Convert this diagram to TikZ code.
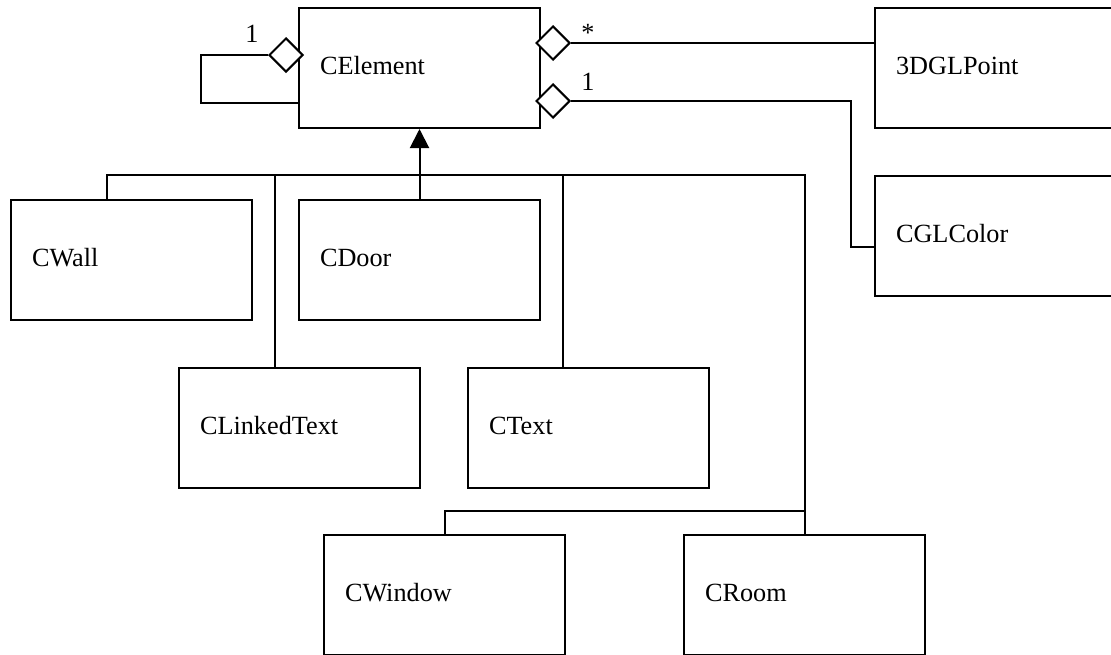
\documentclass[tikz,border=0pt]{standalone}
\usepackage{fontspec}
\setmainfont{Liberation Serif}
\usetikzlibrary{shapes.geometric,arrows.meta,calc}

\tikzset{
  cls/.style={draw, line width=2pt, fill=white, anchor=north west,
    minimum width=241pt, minimum height=120pt, text width=199pt,
    inner xsep=21pt, align=left, text height=12pt, text depth=0pt},
  conn/.style={draw, line width=2pt},
  aggr/.style={diamond, draw, line width=2pt, fill=white, aspect=1,
    minimum size=34pt, inner sep=0pt},
  mult/.style={anchor=base, inner sep=0pt},
}

\begin{document}
\begin{tikzpicture}[x=1pt, y=-1pt, font=\fontsize{26.25}{30}\selectfont]
  \useasboundingbox (0,0) rectangle (1111,654);
  \clip (0,0) rectangle (1111,654);

  % classes
  \node[cls] (elem)   at (298,7)   {CElement};
  \node[cls] (point)  at (874,7)   {3DGLPoint};
  \node[cls] (color)  at (874,175) {CGLColor};
  \node[cls] (wall)   at (10,199)  {CWall};
  \node[cls] (door)   at (298,199) {CDoor};
  \node[cls] (linked) at (178,367) {CLinkedText};
  \node[cls] (ctext)  at (467,367) {CText};
  \node[cls] (window) at (323,534) {CWindow};
  \node[cls] (room)   at (683,534) {CRoom};

  % routing helpers
  \coordinate (bus)   at (0,175);
  \coordinate (bus2)  at (0,511);
  \coordinate (loopy) at (0,103);
  \coordinate (cbend) at (851,247);

  % inheritance tree
  \coordinate (wallup)   at ($(wall.north west)+(97,0)$);
  \coordinate (linkedup) at ($(linked.north west)+(97,0)$);
  \coordinate (ctextup)  at ($(ctext.north west)+(96,0)$);
  \draw[conn] (wallup) |- (bus -| room.north) -- (room.north);
  \draw[conn] (linkedup) -- (linkedup |- bus);
  \draw[conn] (ctextup) -- (ctextup |- bus);
  \draw[conn] (window.north) |- (bus2 -| room.north);
  \draw[conn, -{Triangle[length=19pt, width=19pt]}] (door.north) -- (elem.south);

  % aggregations
  \node[aggr] (d0) at ($(elem.north west)+(-12,48)$) {};
  \node[aggr] (d1) at ($(elem.north east)+(12,36)$) {};
  \node[aggr] (d2) at ($(elem.north east)+(12,94)$) {};
  \draw[conn] (d0.west) -- ++(-67,0) |- (elem.west |- loopy);
  \draw[conn] (d1.east) -- (d1.east -| point.west);
  \draw[conn] (d2.east) -| (cbend) -- (cbend -| color.west);

  % multiplicities
  \node[mult] (m0) at (252,42) {1};
  \node[mult] (m1) at (588,41) {*};
  \node[mult] (m2) at (588,90) {1};
\end{tikzpicture}
\end{document}
